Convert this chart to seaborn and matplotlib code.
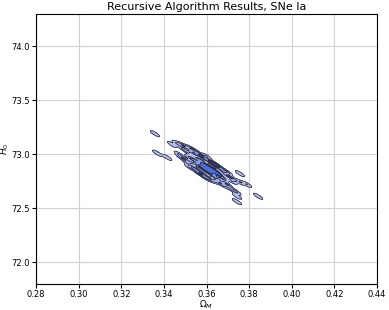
import numpy as np
import matplotlib
matplotlib.use("Agg")
import matplotlib.pyplot as plt
import seaborn as sns

# samples of (Omega_M, H0) from the recursive fit
omega_m = [
    0.346, 0.347, 0.348, 0.348, 0.349, 0.350, 0.350, 0.351, 0.351,
    0.352, 0.352, 0.352, 0.353, 0.353, 0.354, 0.354, 0.354,
    0.355, 0.355, 0.355, 0.356, 0.356, 0.356, 0.356,
    0.357, 0.357, 0.357, 0.357, 0.358, 0.358, 0.358, 0.358,
    0.359, 0.359, 0.359, 0.359, 0.360, 0.360, 0.360, 0.360,
    0.361, 0.361, 0.361, 0.362, 0.362, 0.362, 0.362,
    0.363, 0.363, 0.363, 0.364, 0.364, 0.364, 0.364,
    0.365, 0.365, 0.365, 0.366, 0.366, 0.366, 0.367, 0.367,
    0.368, 0.368, 0.368, 0.369, 0.369, 0.370, 0.370, 0.371,
    0.372, 0.372, 0.373, 0.374, 0.376,
    0.358, 0.359, 0.360, 0.361, 0.362, 0.363, 0.364, 0.365, 0.360, 0.362,
    0.3358, 0.3368, 0.3438, 0.3415, 0.3757, 0.3790, 0.3743, 0.3743, 0.3842,
]
h0 = [
    73.10, 73.00, 73.09, 72.97, 73.05, 73.07, 72.95, 73.02, 72.92,
    73.06, 72.97, 72.88, 73.02, 72.92, 73.04, 72.95, 72.87,
    73.00, 72.93, 72.86, 73.01, 72.95, 72.90, 72.83,
    72.99, 72.94, 72.89, 72.82, 72.98, 72.94, 72.89, 72.82,
    72.96, 72.90, 72.86, 72.79, 72.98, 72.89, 72.85, 72.78,
    72.94, 72.88, 72.84, 72.93, 72.87, 72.83, 72.76,
    72.91, 72.85, 72.80, 72.91, 72.85, 72.80, 72.75,
    72.89, 72.83, 72.77, 72.88, 72.81, 72.74, 72.85, 72.79,
    72.85, 72.77, 72.71, 72.81, 72.73, 72.83, 72.71, 72.79,
    72.75, 72.67, 72.76, 72.65, 72.74,
    72.91, 72.89, 72.88, 72.86, 72.86, 72.84, 72.83, 72.82, 72.86, 72.85,
    73.19, 73.01, 73.09, 72.97, 72.82, 72.72, 72.61, 72.56, 72.61,
]

fig, ax = plt.subplots(figsize=(3.89, 3.10), dpi=100)
sns.kdeplot(x=omega_m, y=h0, fill=True, color="royalblue", bw_adjust=0.35,
            levels=5, thresh=0.05, ax=ax)
sns.kdeplot(x=omega_m, y=h0, color="#222233", linewidths=0.5, bw_adjust=0.35,
            levels=5, thresh=0.05, ax=ax)

ax.set_xlim(0.28, 0.44)
ax.set_ylim(71.8, 74.3)
ax.set_xticks(np.arange(0.28, 0.4401, 0.02))
ax.set_yticks([72.0, 72.5, 73.0, 73.5, 74.0])
ax.grid(True, color="#d0d0d0", linewidth=0.8)
ax.set_axisbelow(True)
ax.tick_params(labelsize=6, length=3, pad=1.5)
ax.set_xlabel(r"$\Omega_M$", fontsize=6.5, labelpad=0)
ax.set_ylabel(r"$H_0$", fontsize=6.5, labelpad=0)
ax.set_title("Recursive Algorithm Results, SNe Ia", fontsize=8, pad=3)
fig.subplots_adjust(left=0.093, right=0.969, top=0.955, bottom=0.085)
fig.savefig("out.png", dpi=100)
